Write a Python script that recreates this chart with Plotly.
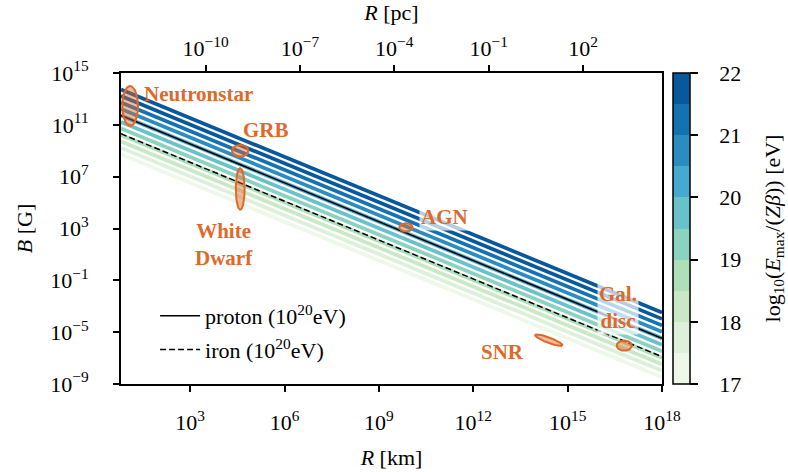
import numpy as np
import plotly.graph_objects as go

# Hillas criterion: E_max = Z * beta * c * e * B * R  ->  E[eV] = 3e7 * Z * beta * B[G] * R[km]
EV_PER_GAUSS_KM = 3.0e7
KM_PER_PC = 3.0857e13

# log10(E_max / (Z beta)) levels drawn as iso-energy lines
energy_levels = [17.0, 17.5, 18.0, 18.5, 19.0, 19.5, 20.0, 20.5, 21.0, 21.5, 22.0]
band_edges = [17.0, 17.5, 18.0, 18.5, 19.0, 19.5, 20.0, 20.5, 21.0, 21.5, 22.0]
band_colors = ["#eef8e8", "#ddf1da", "#c9e9c5", "#ade0b8", "#8bd2c0",
               "#69c1ca", "#47a8d0", "#2b8cbf", "#1572b2", "#08589e"]

# reference particles at 1e20 eV
ref_energy = 1e20
proton_Z = 1
iron_Z = 26

# axis extent (log10 R in km, log10 B in G)
logR_range = [0.8, 18.0]
logB_range = [-9.0, 15.0]
x_tickvals_exp = [3, 6, 9, 12, 15, 18]
y_tickvals_exp = [-9, -5, -1, 3, 7, 11, 15]
pc_tickvals_exp = [-10, -7, -4, -1, 2]
cbar_ticks = [17, 18, 19, 20, 21, 22]

# source classes: centre (log R, log B), half extents in decades, tilt (deg)
src_names = ["Neutronstar", "GRB", "White Dwarf", "AGN", "SNR", "Gal. disc"]
src_logR = [1.09, 4.59, 4.59, 9.86, 14.40, 16.80]
src_logB = [12.45, 9.00, 6.05, 3.08, -5.62, -6.04]
src_halfR = [0.25, 0.26, 0.14, 0.21, 0.60, 0.24]
src_halfB = [1.54, 0.45, 1.60, 0.32, 0.16, 0.39]
src_tilt = [0, 0, 0, 0, -46, 0]

# label placement (log R, log B)
label_text = ["Neutronstar", "GRB", "White<br>Dwarf", "AGN", "SNR", "Gal.<br>disc"]
label_logR = [1.46, 5.40, 4.08, 11.10, 12.92, 16.60]
label_logB = [13.38, 10.60, 1.80, 3.91, -6.53, -3.06]
label_anchor = ["left", "center", "center", "center", "center", "center"]
label_boxed = [False, False, False, True, False, True]

ORANGE = "#e0692a"
FONT = "Liberation Serif, DejaVu Serif, serif"
FS = 22
NB = "\u00a0"


def b_field(energy, Z, R):
    return energy / (Z * EV_PER_GAUSS_KM * R)


def band_color(v):
    idx = int(np.searchsorted(band_edges, v, side="right")) - 1
    return band_colors[min(max(idx, 0), len(band_colors) - 1)]


R = np.logspace(logR_range[0], logR_range[1], 50)

fig = go.Figure()

for lev in energy_levels:
    fig.add_trace(go.Scatter(
        x=R, y=b_field(10 ** lev, 1, R), mode="lines",
        line=dict(color=band_color(lev), width=3.7),
        showlegend=False, hoverinfo="skip"))

fig.add_trace(go.Scatter(
    x=R, y=b_field(ref_energy, proton_Z, R), mode="lines",
    line=dict(color="black", width=1.5),
    name="proton (10<sup>20</sup>eV)", legendgroup="p"))
fig.add_trace(go.Scatter(
    x=R, y=b_field(ref_energy, iron_Z, R), mode="lines",
    line=dict(color="black", width=1.5, dash="6px,3px"),
    name="iron (10<sup>20</sup>eV)", legendgroup="fe"))

# same proton line expressed in parsec, carried by the top axis (transparent)
fig.add_trace(go.Scatter(
    x=R / KM_PER_PC, y=b_field(ref_energy, proton_Z, R), mode="lines",
    line=dict(color="rgba(0,0,0,0)", width=0), xaxis="x2",
    showlegend=False, hoverinfo="skip"))

# source regions as filled ellipses in log-log space
t = np.linspace(0, 2 * np.pi, 120)
for cx, cy, a, b, ang in zip(src_logR, src_logB, src_halfR, src_halfB, src_tilt):
    th = np.deg2rad(ang)
    lx = cx + a * np.cos(t) * np.cos(th) - b * np.sin(t) * np.sin(th)
    ly = cy + a * np.cos(t) * np.sin(th) + b * np.sin(t) * np.cos(th)
    fig.add_trace(go.Scatter(
        x=10 ** lx, y=10 ** ly, mode="lines", fill="toself",
        fillcolor="rgba(224,105,42,0.45)",
        line=dict(color=ORANGE, width=2),
        showlegend=False, hoverinfo="skip"))

# discrete colour scale for the colour bar
n = len(band_colors)
cscale = []
for i, c in enumerate(band_colors):
    cscale.append([i / n, c])
    cscale.append([(i + 1) / n, c])

fig.add_trace(go.Scatter(
    x=[10 ** logR_range[0]], y=[10 ** logB_range[0]], mode="markers",
    marker=dict(size=0.1, opacity=0, color=[17], cmin=band_edges[0], cmax=band_edges[-1],
                colorscale=cscale, showscale=True,
                colorbar=dict(
                    x=1.0203, xanchor="left", xpad=0, ypad=0,
                    y=0.5, yanchor="middle", len=1.0, lenmode="fraction",
                    thickness=17, outlinewidth=1.5, outlinecolor="black",
                    ticks="outside", ticklen=8, tickwidth=1.5, tickcolor="black",
                    tickvals=cbar_ticks,
                    ticktext=[NB * 3 + str(v) + NB * 3 for v in cbar_ticks],
                    tickfont=dict(family=FONT, size=FS, color="black"),
                    title=dict(text="log<sub>10</sub>(<i>E</i><sub>max</sub>/(<i>Zβ</i>)) [eV]",
                               side="right", font=dict(family=FONT, size=FS, color="black")))),
    showlegend=False, hoverinfo="skip"))


def sup_labels(exps):
    return ["10<sup>" + str(e).replace("-", "\u2212") + "</sup>" for e in exps]


axis_common = dict(showgrid=False, zeroline=False, showline=True, linecolor="black",
                   linewidth=1.8, ticks="outside", ticklen=6, tickwidth=1.5, automargin=False,
                   tickcolor="black", tickfont=dict(family=FONT, size=FS, color="black"))

fig.update_layout(
    width=788, height=472,
    margin=dict(l=121, r=126, t=73, b=88, autoexpand=False),
    plot_bgcolor="white", paper_bgcolor="white",
    font=dict(family=FONT, size=FS, color="black"),
    xaxis=dict(type="log", range=logR_range, ticklabelstandoff=12,
               tickvals=[10 ** e for e in x_tickvals_exp], ticktext=sup_labels(x_tickvals_exp),
               title=dict(text="<i>R</i> [km]", font=dict(family=FONT, size=FS), standoff=15),
               **axis_common),
    xaxis2=dict(type="log", overlaying="x", side="top", anchor="y",
                range=[logR_range[0] - np.log10(KM_PER_PC), logR_range[1] - np.log10(KM_PER_PC)],
                tickvals=[10 ** e for e in pc_tickvals_exp], ticktext=sup_labels(pc_tickvals_exp),
                title=dict(text="<i>R</i> [pc]", font=dict(family=FONT, size=FS), standoff=6),
                **axis_common),
    yaxis=dict(type="log", range=logB_range, mirror=True, ticklabelstandoff=20,
               tickvals=[10 ** e for e in y_tickvals_exp], ticktext=sup_labels(y_tickvals_exp),
               title=dict(text="<i>B</i> [G]", font=dict(family=FONT, size=FS), standoff=12),
               **axis_common),
    legend=dict(x=0.063, y=0.286, xanchor="left", yanchor="top",
                bgcolor="rgba(0,0,0,0)", borderwidth=0,
                font=dict(family=FONT, size=FS, color="black"),
                tracegroupgap=2, traceorder="grouped", itemwidth=40),
    showlegend=True,
)

for txt, lx, ly, anc, boxed in zip(label_text, label_logR, label_logB, label_anchor, label_boxed):
    fig.add_annotation(
        x=lx, y=ly, xref="x", yref="y", text="<b>" + txt + "</b>",
        showarrow=False, xanchor=anc, yanchor="middle", align="center",
        font=dict(family=FONT, size=21, color=ORANGE),
        bgcolor="rgba(255,255,255,0.7)" if boxed else "rgba(0,0,0,0)",
        borderpad=1)

fig.write_html("out.html")
